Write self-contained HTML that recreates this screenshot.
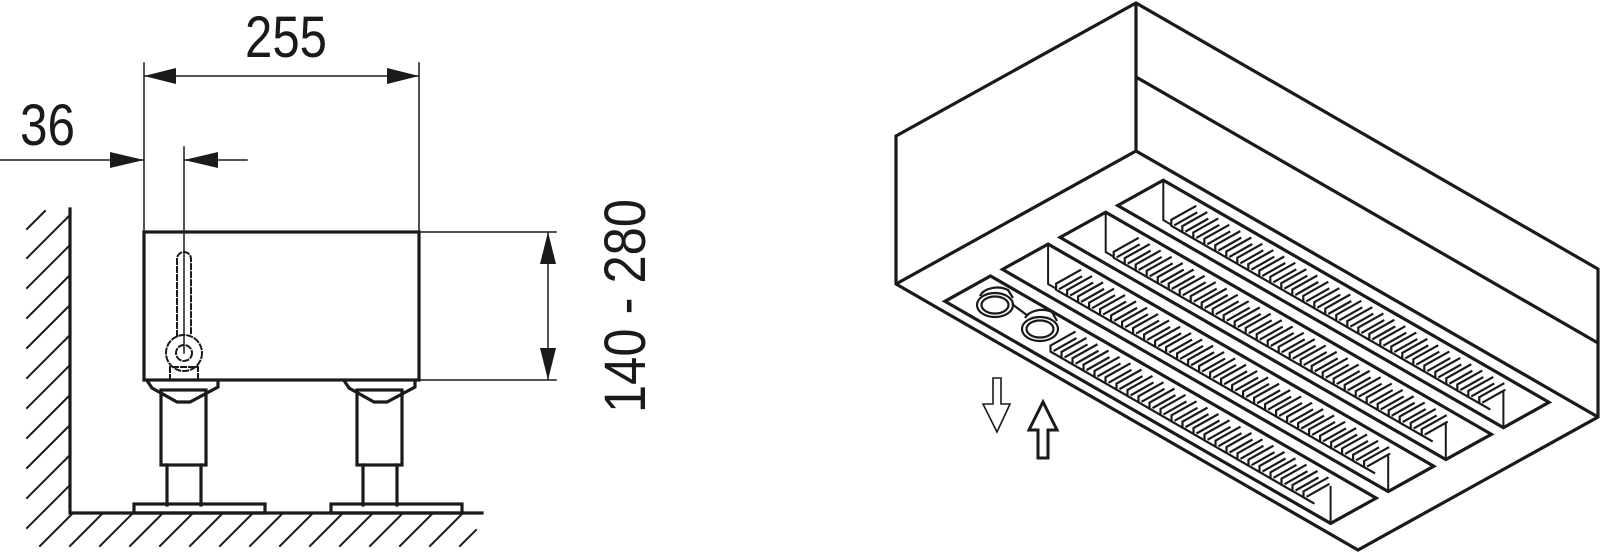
<!DOCTYPE html>
<html><head><meta charset="utf-8"><style>
html,body{margin:0;padding:0;background:#fff}
svg{display:block}
text{font-family:"Liberation Sans Narrow","Liberation Sans",sans-serif;fill:#1a1a1a}
</style></head><body>
<svg width="1600" height="557" viewBox="0 0 1600 557" xmlns="http://www.w3.org/2000/svg">
<g stroke="#1a1a1a" fill="none" stroke-linecap="square">
<path d="M70,209 V513 H482" stroke-width="3.2"/>
<g stroke-width="2">
<path d="M27,229 L45,211 M27,258 L70,215 M27,288 L70,245 M27,318 L70,275 M27,348 L70,305 M27,378 L70,335 M27,408 L70,365 M27,438 L70,395 M27,468 L70,425 M27,498 L70,455 M27,528 L70,485"/>
<path d="M40,546 L73,513 M70,546 L103,513 M100,546 L133,513 M130,546 L163,513 M160,546 L193,513 M190,546 L223,513 M220,546 L253,513 M250,546 L283,513 M280,546 L313,513 M310,546 L343,513 M340,546 L373,513 M370,546 L403,513 M400,546 L433,513 M430,546 L463,513 M460,546 L476,530"/>
</g>
<rect x="144" y="232" width="275" height="148" stroke-width="3.2"/>
<g stroke-width="1.5">
<path d="M144,63 V232 M419,63 V232 M144,76 H419"/>
<path d="M0,160 H144 M184,160 H247 M184,147 V353"/>
<path d="M419,232 H556 M419,380 H556 M548,232 V380"/>
</g>
<g fill="#1a1a1a" stroke="none">
<polygon points="144,76 176,68 176,84"/>
<polygon points="419,76 387,68 387,84"/>
<polygon points="144,160 110,152 110,168"/>
<polygon points="184,160 218,152 218,168"/>
<polygon points="548,232 540,264 556,264"/>
<polygon points="548,380 540,348 556,348"/>
</g>
<g stroke-width="2" stroke-dasharray="5,3">
<path d="M177,336 V259 A7,7 0 0 1 191,259 V336"/>
<circle cx="184" cy="353" r="18"/>
<circle cx="184" cy="353" r="8"/>
<path d="M170,380 V367 H198 V380"/>
</g>
<g stroke-width="3.2" stroke-linejoin="miter">
<path d="M148,382 L152,388 L177,402 L190,402 L218,387 L218,382"/>
<rect x="161" y="390" width="45" height="75"/>
<path d="M167,465 V505 M201,465 V505"/>
<rect x="134" y="504" width="131" height="9"/>
<path d="M345,382 L349,388 L374,402 L387,402 L415,387 L415,382"/>
<rect x="357" y="390" width="45" height="75"/>
<path d="M363,465 V505 M397,465 V505"/>
<rect x="331" y="504" width="131" height="9"/>
</g>
</g>
<text x="245" y="57" font-size="58" textLength="82" lengthAdjust="spacingAndGlyphs">255</text>
<text x="20" y="145" font-size="58" textLength="55" lengthAdjust="spacingAndGlyphs">36</text>
<text transform="translate(645,413) rotate(-90)" font-size="58" textLength="214" lengthAdjust="spacingAndGlyphs">140 - 280</text>

<defs>
<g id="F" fill="none" stroke="#1a1a1a" stroke-width="2.2" stroke-linejoin="miter">
<path d="M25,-14 L0,0 L0,6 L11,12.34"/>
<path d="M3,5.5 L26,-7.5"/>
</g>
<g id="g2"><use href="#F"/><use href="#F" transform="translate(11,6.34)"/></g>
<g id="g4"><use href="#g2"/><use href="#g2" transform="translate(22,12.67)"/></g>
<g id="g8"><use href="#g4"/><use href="#g4" transform="translate(44,25.34)"/></g>
<g id="g16"><use href="#g8"/><use href="#g8" transform="translate(88,50.7)"/></g>
<g id="g29"><use href="#g16"/><use href="#g8" transform="translate(176,101.4)"/><use href="#g4" transform="translate(264,152.1)"/><use href="#F" transform="translate(308,177.4)"/></g>
<g id="g24"><use href="#g16"/><use href="#g8" transform="translate(176,101.4)"/></g>
</defs>
<g stroke="#1a1a1a" fill="none" stroke-width="3.2" stroke-linejoin="miter">
<polygon points="896,136 1136,3 1598,269 1598,417 1358,550 896,284"/>
<path d="M1136,3 V151 M896,284 L1136,151 L1598,417 M1136,77 L1598,343"/>
<polygon points="944.9,301.3 1330.6,523.4 1376.2,498.1 990.5,276"/>
<polygon points="1002.5,269.4 1388.2,491.5 1433.8,466.2 1048.1,244.1"/>
<polygon points="1060.1,237.4 1445.8,459.5 1491.4,434.3 1105.7,212.2"/>
<polygon points="1117.7,205.5 1503.4,427.6 1549,402.3 1163.3,180.2"/>
</g>
<g stroke="#1a1a1a" fill="none" stroke-width="2">
<path d="M1048.1,244.1 V284 L1056.1,288.7 M1105.7,212.2 V252 L1113.7,256.8 M1163.3,180.2 V220 L1171.3,224.8"/>
<path d="M1330.6,523.4 V486 M1388.2,491.5 V454 M1445.8,459.5 V422 M1503.4,427.6 V390"/>
</g>
<use href="#g29" transform="translate(1056.1,283.7)"/>
<use href="#g29" transform="translate(1113.7,251.8)"/>
<use href="#g29" transform="translate(1171.3,219.8)"/>
<use href="#g24" transform="translate(1050.5,345.6)"/>
<g stroke="#1a1a1a" fill="#fff" stroke-width="2.2">
<path d="M980,296 A18,12 0 0 1 1008,290 L1013,298" fill="none"/>
<ellipse cx="995" cy="305" rx="18" ry="12"/>
<ellipse cx="995" cy="305" rx="13.5" ry="8.5"/>
<path d="M1025,318 A18,12 0 0 1 1052,312 L1057,321" fill="none"/>
<path d="M1012,304 L1028,316" fill="none"/>
<ellipse cx="1040" cy="329" rx="18" ry="12"/>
<ellipse cx="1040" cy="329" rx="13.5" ry="8.5"/>
</g>
<path d="M993,378 H1001 V404 H1010 L997,432 L983,404 H993 Z" fill="none" stroke="#1a1a1a" stroke-width="1.6"/>
<path d="M1038,458 V430 H1029 L1043,402 L1057,430 H1048 V458 Z" fill="none" stroke="#1a1a1a" stroke-width="3" stroke-linejoin="miter"/>
</svg>
</body></html>
